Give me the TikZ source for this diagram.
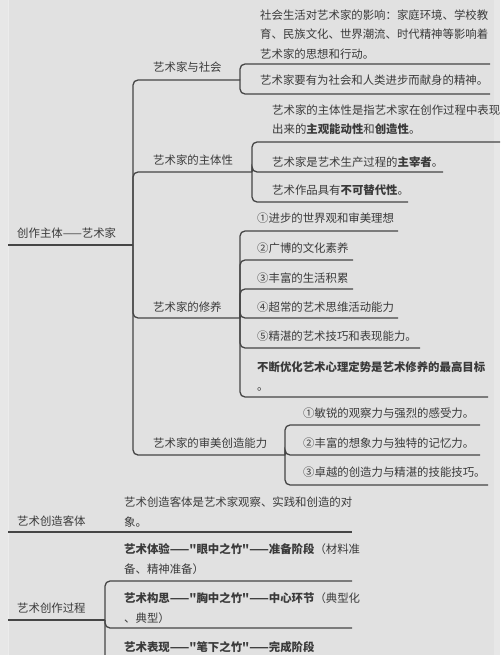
\documentclass[tikz,border=0pt]{standalone}
\usepackage{fontspec}
\setmainfont{Noto Sans CJK SC}[Ligatures=TeXOff]
\usepackage{xcolor}
\usepackage{tikz}
\definecolor{paper}{HTML}{E1E1E1}
\definecolor{ink}{HTML}{3A3A3A}
\definecolor{rulec}{HTML}{454545}
\definecolor{edgec}{HTML}{ECECEC}

\begin{document}
\begin{tikzpicture}[x=1pt,y=-1pt,
  link/.style={draw=rulec,line width=1.3pt,rounded corners=5pt},
  txt/.style={anchor=base west,inner sep=0pt,text=ink,align=left,
    font=\fontsize{11.4}{19.5}\selectfont},
]
\def\xa{240}\def\xb{252}\def\xc{240}\def\xd{285}\def\xe{105}
\clip (0,0) rectangle (500,655);
% page
\fill[paper] (0,0) rectangle (500,655);
\fill[edgec!50!paper] (0,0) rectangle (8,655);
\fill[edgec!50!paper] (494,0) rectangle (500,655);
\draw[edgec,line width=1.2pt] (8.5,0) -- (8.5,655);
% junction points
\coordinate (r1) at (8,245);
\coordinate (trunk) at (133,245);
\coordinate (bSoc) at (\xa,80);
\coordinate (bSubj) at (\xb,172);
\coordinate (bCult) at (\xc,318);
\coordinate (bAes) at (\xd,455);
\coordinate (r2) at (8,532);
\coordinate (r2e) at (352,532);
\coordinate (r3) at (8,620);
\coordinate (bProc) at (\xe,620);
% leaf line ends
\coordinate (eSoc1) at (490,64);
\coordinate (eSoc2) at (490,94);
\coordinate (eSubj1) at (505,142);
\coordinate (eSubj2) at (443,172);
\coordinate (eSubj3) at (408,202);
\coordinate (eCult1) at (398,231);
\coordinate (eCult2) at (353,260);
\coordinate (eCult3) at (353,289);
\coordinate (eCult4) at (398,318);
\coordinate (eCult5) at (420,348);
\coordinate (eCult6) at (488,397);
\coordinate (eAes1) at (480,425);
\coordinate (eAes2) at (480,455);
\coordinate (eAes3) at (488,485);
\coordinate (eProc1) at (352,581);
\coordinate (eProc2) at (352,628);
\coordinate (eProc3) at (352,676);
% roots
\node[txt] (rSubj) at (17,237.5) {创作主体——艺术家};
\node[txt] (rObj) at (17,525.5) {艺术创造客体};
\node[txt] (rProc) at (17,612.5) {艺术创作过程};
% branches
\node[txt] (soc) at (153,71.5) {艺术家与社会};
\node[txt] (subj) at (153,164.5) {艺术家的主体性};
\node[txt] (cult) at (153,311.5) {艺术家的修养};
\node[txt] (aes) at (153,447.5) {艺术家的审美创造能力};
% leaves (base = last line)
\node[txt] (soc1) at (260,58.5) {社会生活对艺术家的影响：家庭环境、学校教\\育、民族文化、世界潮流、时代精神等影响着\\艺术家的思想和行动。};
\node[txt] (soc2) at (260,84.5) {艺术家要有为社会和人类进步而献身的精神。};
\node[txt] (subj1) at (272,134) {艺术家的主体性是指艺术家在创作过程中表现\\出来的\textbf{主观能动性}和\textbf{创造性}。};
\node[txt] (subj2) at (272,166.5) {艺术家是艺术生产过程的\textbf{主宰者}。};
\node[txt] (subj3) at (272,194.5) {艺术作品具有\textbf{不可替代性}。};
\node[txt] (cult1) at (257,222.5) {①进步的世界观和审美理想};
\node[txt] (cult2) at (257,252.5) {②广博的文化素养};
\node[txt] (cult3) at (257,282.5) {③丰富的生活积累};
\node[txt] (cult4) at (257,311.5) {④超常的艺术思维活动能力};
\node[txt] (cult5) at (257,340.5) {⑤精湛的艺术技巧和表现能力。};
\node[txt] (cult6) at (257,390.5) {\textbf{不断优化艺术心理定势是艺术修养的最高目标}\\。};
\node[txt] (aes1) at (303,417.5) {①敏锐的观察力与强烈的感受力。};
\node[txt] (aes2) at (303,447.5) {②丰富的想象力与独特的记忆力。};
\node[txt] (aes3) at (303,476.5) {③卓越的创造力与精湛的技能技巧。};
\node[txt] (obj1) at (124,526) {艺术创造客体是艺术家观察、实践和创造的对\\象。};
\node[txt] (proc1) at (124,573) {\textbf{艺术体验——"眼中之竹"——准备阶段}（材料准\\备、精神准备）};
\node[txt] (proc2) at (124,622) {\textbf{艺术构思——"胸中之竹"——中心环节}（典型化\\、典型）};
\node[txt] (proc3) at (124,651.5) {\textbf{艺术表现——"笔下之竹"——完成阶段}};
% root and branch lines
\draw[link] (r1) -- (trunk);
\foreach \b in {bSoc,bSubj,bCult,bAes}
  \draw[link] (trunk) |- (\b);
\draw[link] (r2) -- (r2e);
\draw[link] (r3) -- (bProc);
% leaf lines
\foreach \e in {eSoc1,eSoc2}
  \draw[link] (bSoc) |- (\e);
\foreach \e in {eSubj1,eSubj2,eSubj3}
  \draw[link] (bSubj) |- (\e);
\foreach \e in {eCult1,eCult2,eCult3,eCult4,eCult5,eCult6}
  \draw[link] (bCult) |- (\e);
\foreach \e in {eAes1,eAes2,eAes3}
  \draw[link] (bAes) |- (\e);
\foreach \e in {eProc1,eProc2,eProc3}
  \draw[link] (bProc) |- (\e);
\end{tikzpicture}
\end{document}
